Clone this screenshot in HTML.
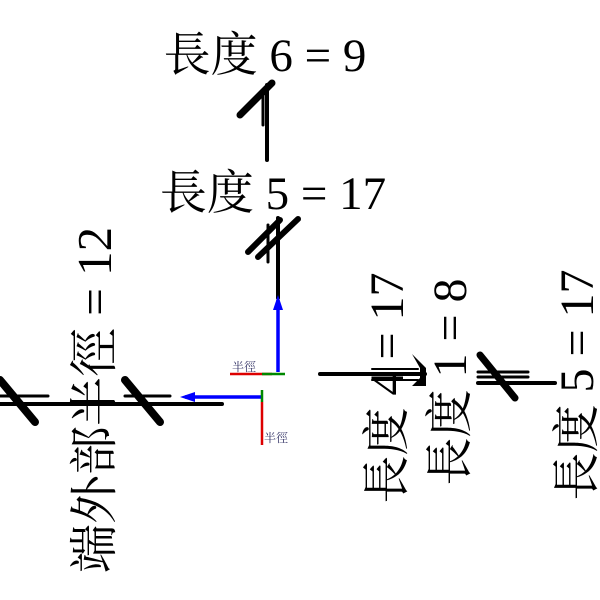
<!DOCTYPE html>
<html><head><meta charset="utf-8"><style>
html,body{margin:0;padding:0;background:#fff;width:600px;height:600px;overflow:hidden}
svg text{font-family:"Liberation Serif","Noto Serif CJK SC",serif;fill:#000}
</style></head><body>
<svg width="600" height="600" viewBox="0 0 600 600" xmlns="http://www.w3.org/2000/svg">
<text x="265" y="71" font-size="47" text-anchor="middle">長度 6 = 9</text>
<text x="273" y="209" font-size="47" text-anchor="middle">長度 5 = 17</text>
<text transform="translate(111,400) rotate(-90)" font-size="49" text-anchor="middle">端外部半徑 = 12</text>
<text transform="translate(403,388) rotate(-90)" font-size="48" text-anchor="middle">長度 4 = 17</text>
<text transform="translate(466,382) rotate(-90)" font-size="48" text-anchor="middle">長度 1 = 8</text>
<text transform="translate(593,385) rotate(-90)" font-size="48" text-anchor="middle">長度 5 = 17</text>
<g stroke="#000" stroke-linecap="round">
<line x1="267" y1="85" x2="267" y2="160" stroke-width="4"/>
<line x1="240" y1="115" x2="272" y2="83" stroke-width="7"/>
<line x1="263" y1="95" x2="263" y2="125" stroke-width="3"/>
<line x1="278" y1="218" x2="278" y2="298" stroke-width="4"/>
<line x1="248" y1="252" x2="280" y2="220" stroke-width="6"/>
<line x1="258" y1="257" x2="298" y2="219" stroke-width="6"/>
<line x1="268" y1="225" x2="268" y2="262" stroke-width="3"/>
<line x1="0" y1="404" x2="222" y2="404" stroke-width="4"/>
<line x1="0" y1="396" x2="48" y2="396" stroke-width="3"/>
<line x1="125" y1="396" x2="170" y2="396" stroke-width="3"/>
<line x1="0" y1="380" x2="35" y2="422" stroke-width="8"/>
<line x1="125" y1="380" x2="160" y2="422" stroke-width="8"/>
<line x1="320" y1="374" x2="425" y2="374" stroke-width="4"/>
<line x1="372" y1="369" x2="418" y2="369" stroke-width="2"/>
<line x1="372" y1="380" x2="418" y2="380" stroke-width="2"/>
<line x1="478" y1="383" x2="555" y2="383" stroke-width="4"/>
<line x1="478" y1="372" x2="528" y2="372" stroke-width="3"/>
<line x1="478" y1="377" x2="528" y2="377" stroke-width="3"/>
<line x1="480" y1="355" x2="515" y2="398" stroke-width="7"/>
</g>
<polygon points="412,354 426,368 426,386 412,386 420,378 420,368" fill="#000"/>
<g stroke-width="3.5">
<line x1="278" y1="372" x2="278" y2="300" stroke="#00f"/>
<polygon points="278,295 273,310 283,310" fill="#00f"/>
<line x1="262" y1="397" x2="185" y2="397" stroke="#00f"/>
<polygon points="180,397 195,392 195,402" fill="#00f"/>
<line x1="230" y1="374" x2="272" y2="374" stroke="#d00" stroke-width="2.5"/>
<line x1="262" y1="374" x2="285" y2="374" stroke="#080" stroke-width="2.5"/>
<line x1="262" y1="390" x2="262" y2="402" stroke="#080" stroke-width="2.5"/>
<line x1="262" y1="402" x2="262" y2="445" stroke="#d00" stroke-width="2.5"/>
</g>
<text x="232" y="371" font-size="12" style="fill:#336">半徑</text>
<text x="264" y="442" font-size="12" style="fill:#336">半徑</text>
</svg>
</body></html>
